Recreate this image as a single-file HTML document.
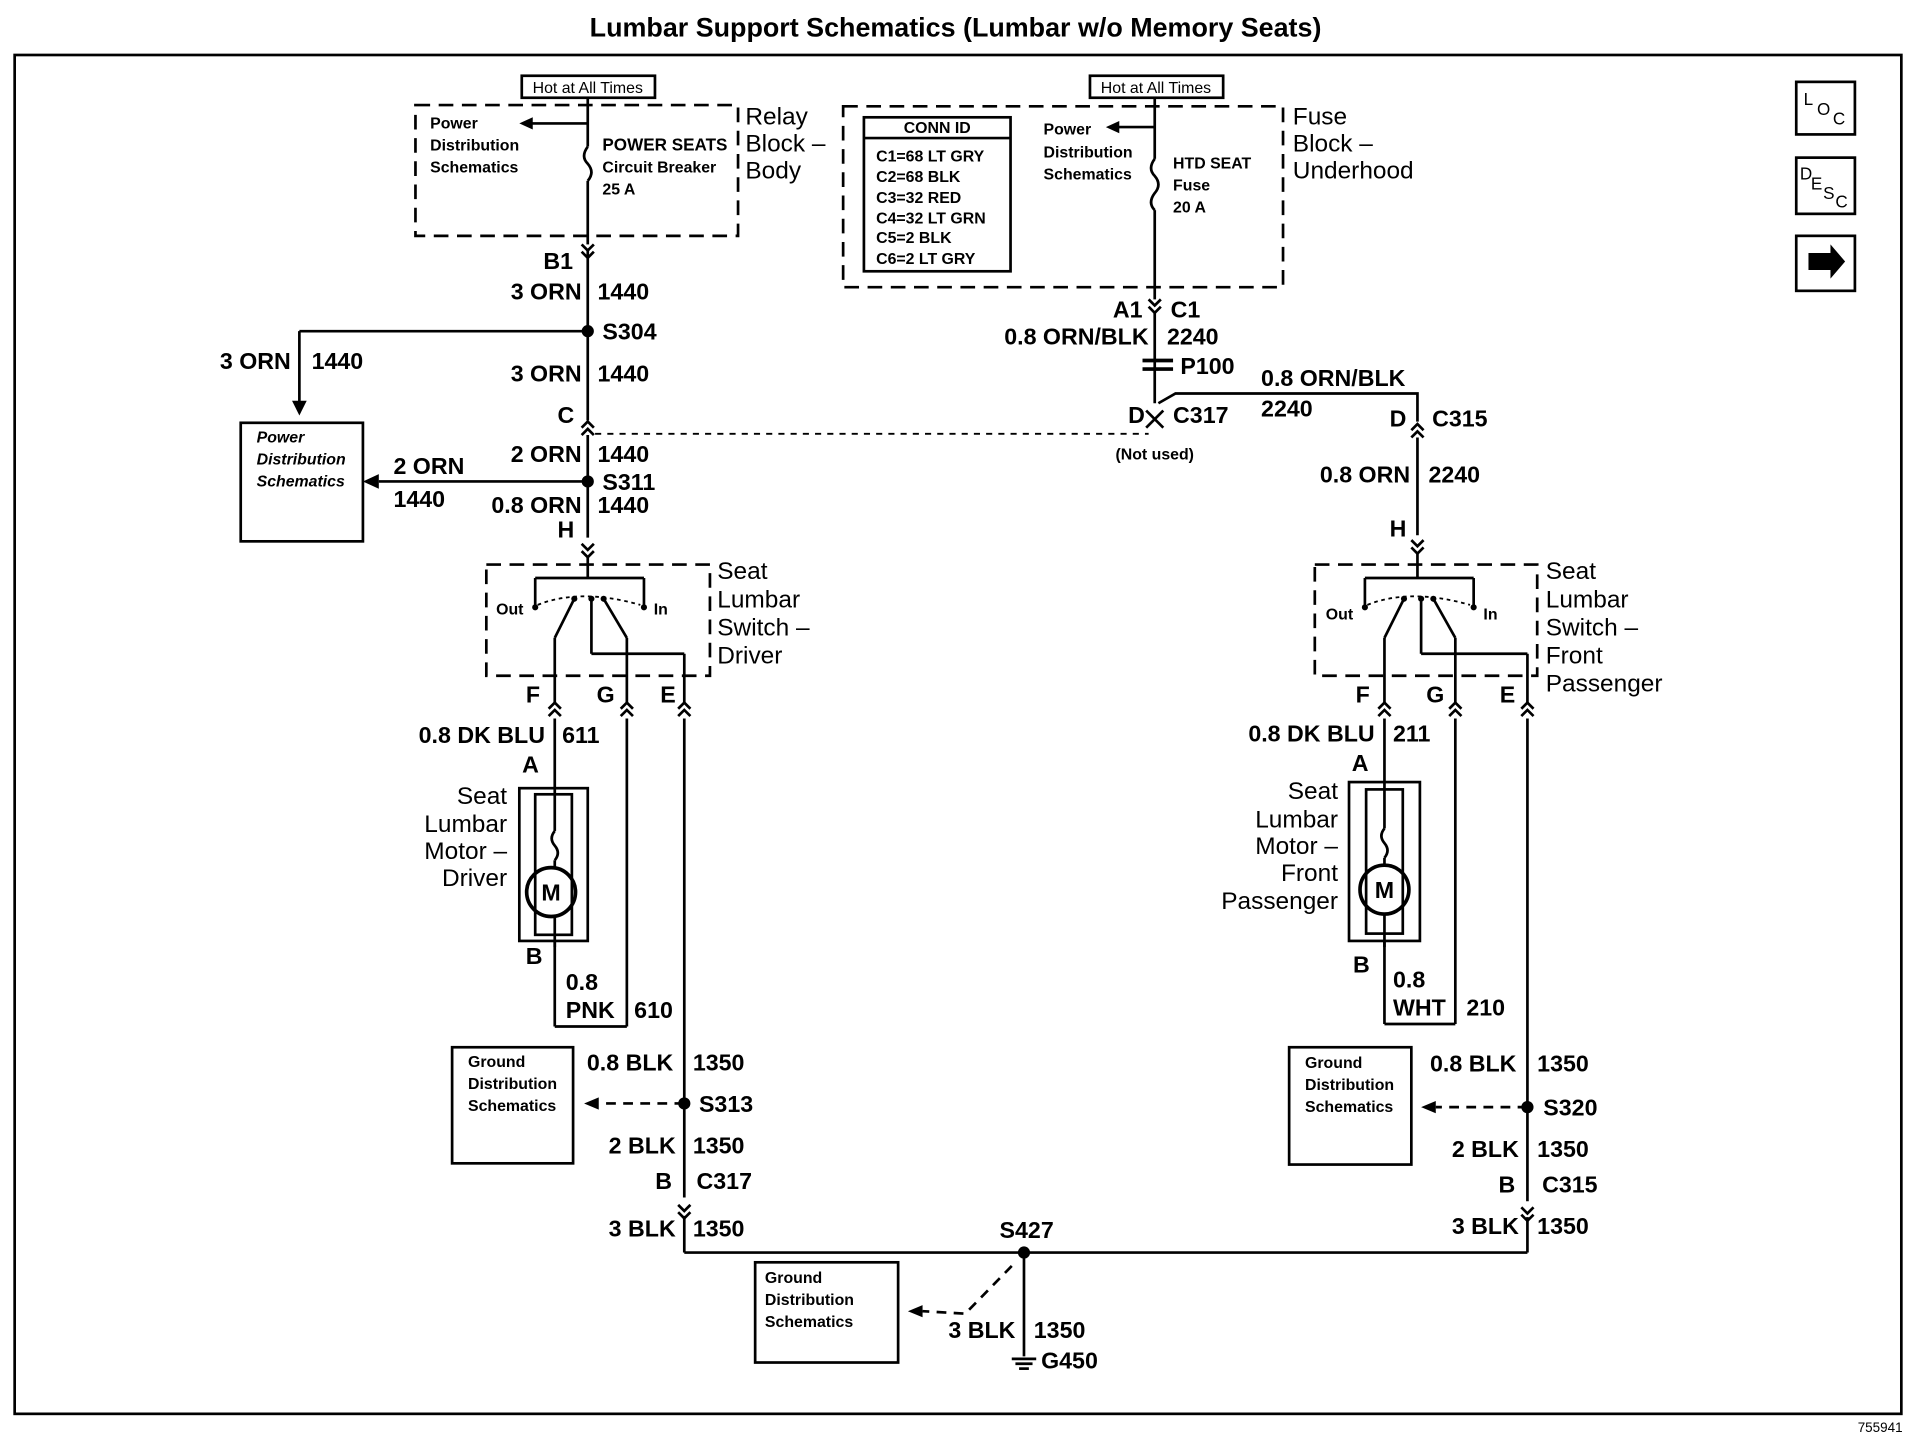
<!DOCTYPE html>
<html><head><meta charset="utf-8"><style>
html,body{margin:0;padding:0;background:#fff;width:1916px;height:1456px;overflow:hidden}
svg{display:block}
text{font-family:"Liberation Sans",Arial,sans-serif;fill:#000}
.l{font-size:19px;font-weight:bold}
.s{font-size:13px;font-weight:bold}
.b{font-size:20px}
</style></head><body>
<svg width="1916" height="1456" viewBox="0 0 1568 1191.5" preserveAspectRatio="none" xmlns="http://www.w3.org/2000/svg">
<g stroke="#000" stroke-width="2.2" fill="none">
<rect x="12" y="45" width="1544" height="1112"/>
<!-- icons -->
<rect x="1470" y="67" width="48" height="43"/>
<rect x="1470" y="129" width="48" height="46"/>
<rect x="1470" y="193" width="48" height="45"/>
<!-- relay block -->
<rect x="340" y="86" width="264" height="107" stroke-dasharray="12,7"/>
<rect x="427" y="62" width="109" height="18"/>
<line x1="481" y1="80" x2="481" y2="120"/>
<path d="M481 120 q-6 8 0 14 q6 7 0 14"/>
<line x1="481" y1="148" x2="481" y2="200"/>
<line x1="481" y1="101" x2="430" y2="101"/>
<!-- left main wire -->
<line x1="481" y1="205" x2="481" y2="344"/>
<line x1="481" y1="356" x2="481" y2="440"/>
<polyline points="476,200 481,205 486,200"/><polyline points="476,206 481,211 486,206"/>
<polyline points="476,350 481,345 486,350"/><polyline points="476,356 481,351 486,356"/>
<polyline points="476,445 481,450 486,445"/><polyline points="476,451 481,456 486,451"/>
<line x1="481" y1="271" x2="245" y2="271"/><line x1="245" y1="271" x2="245" y2="332"/>
<line x1="481" y1="394" x2="310" y2="394"/>
<rect x="197" y="346" width="100" height="97"/>
<line x1="487" y1="355" x2="940" y2="355" stroke-dasharray="5,5" stroke-width="1.5"/>
<!-- left switch -->
<rect x="398" y="462" width="183" height="91" stroke-dasharray="12,7"/>
<line x1="481" y1="456" x2="481" y2="473"/>
<line x1="438" y1="473" x2="527" y2="473"/>
<line x1="438" y1="473" x2="438" y2="495"/><line x1="527" y1="473" x2="527" y2="495"/>
<path d="M440 495 q35 -14 84 0" stroke-dasharray="3,3" stroke-width="1.5"/>
<line x1="470" y1="490" x2="454" y2="522"/><line x1="494" y1="490" x2="513" y2="522"/>
<line x1="484" y1="490" x2="484" y2="535"/><line x1="484" y1="535" x2="560" y2="535"/><line x1="560" y1="535" x2="560" y2="575"/>
<line x1="454" y1="522" x2="454" y2="575"/><line x1="513" y1="522" x2="513" y2="575"/>
<!-- left wires down -->
<line x1="454" y1="588" x2="454" y2="645"/>
<line x1="513" y1="588" x2="513" y2="840"/>
<line x1="454" y1="770" x2="454" y2="840"/><line x1="454" y1="840" x2="513" y2="840"/>
<line x1="560" y1="588" x2="560" y2="980"/>
<line x1="560" y1="995" x2="560" y2="1025"/>
<polyline points="449,580 454,575 459,580"/><polyline points="449,586 454,581 459,586"/>
<polyline points="508,580 513,575 518,580"/><polyline points="508,586 513,581 518,586"/>
<polyline points="555,580 560,575 565,580"/><polyline points="555,586 560,581 565,586"/>
<polyline points="555,986 560,991 565,986"/><polyline points="555,992 560,997 565,992"/>
<rect x="425" y="645" width="56" height="125"/>
<rect x="438" y="650" width="30" height="115"/>
<line x1="454" y1="645" x2="454" y2="680"/><path d="M454 680 q-5 6 0 12 q5 6 0 12"/><line x1="454" y1="704" x2="454" y2="710"/>
<circle cx="451" cy="730" r="20" stroke-width="3"/>
<line x1="454" y1="750" x2="454" y2="775"/>
<!-- ground left -->
<rect x="370" y="857" width="99" height="95"/>
<line x1="560" y1="903" x2="490" y2="903" stroke-dasharray="8,6"/>
<line x1="560" y1="1025" x2="1250" y2="1025"/>
<line x1="838" y1="1025" x2="838" y2="1110"/>
<line x1="828" y1="1112" x2="848" y2="1112"/><line x1="831" y1="1116" x2="845" y2="1116"/><line x1="834" y1="1120" x2="842" y2="1120"/>
<rect x="618" y="1033" width="117" height="82"/>
<path d="M828 1036 L790 1075 L755 1073" stroke-dasharray="8,6"/>
<!-- fuse block -->
<rect x="690" y="87" width="360" height="148" stroke-dasharray="12,7"/>
<rect x="892" y="62" width="109" height="18"/>
<rect x="707" y="96" width="120" height="126"/>
<line x1="707" y1="113" x2="827" y2="113"/>
<line x1="945" y1="80" x2="945" y2="130"/>
<path d="M945 130 q-6 8 0 14 q6 7 0 14 q-6 8 0 14"/>
<line x1="945" y1="172" x2="945" y2="245"/>
<line x1="945" y1="104" x2="912" y2="104"/>
<polyline points="940,245 945,250 950,245"/><polyline points="940,251 945,256 950,251"/>
<line x1="945" y1="256" x2="945" y2="330"/>
<line x1="935" y1="295" x2="960" y2="295" stroke-width="3"/><line x1="935" y1="302" x2="960" y2="302" stroke-width="3"/>
<line x1="938" y1="336" x2="952" y2="350"/><line x1="952" y1="336" x2="938" y2="350"/>
<path d="M948 330 L962 322 L1160 322 L1160 345"/>
<polyline points="1155,352 1160,347 1165,352"/><polyline points="1155,358 1160,353 1165,358"/>
<line x1="1160" y1="358" x2="1160" y2="438"/>
<polyline points="1155,442 1160,447 1165,442"/><polyline points="1155,448 1160,453 1165,448"/>
<!-- right switch -->
<rect x="1076" y="462" width="182" height="91" stroke-dasharray="12,7"/>
<line x1="1160" y1="453" x2="1160" y2="473"/>
<line x1="1117" y1="473" x2="1206" y2="473"/>
<line x1="1117" y1="473" x2="1117" y2="495"/><line x1="1206" y1="473" x2="1206" y2="495"/>
<path d="M1119 495 q35 -14 84 0" stroke-dasharray="3,3" stroke-width="1.5"/>
<line x1="1149" y1="490" x2="1133" y2="522"/><line x1="1173" y1="490" x2="1191" y2="522"/>
<line x1="1163" y1="490" x2="1163" y2="535"/><line x1="1163" y1="535" x2="1250" y2="535"/><line x1="1250" y1="535" x2="1250" y2="575"/>
<line x1="1133" y1="522" x2="1133" y2="575"/><line x1="1191" y1="522" x2="1191" y2="575"/>
<polyline points="1128,580 1133,575 1138,580"/><polyline points="1128,586 1133,581 1138,586"/>
<polyline points="1186,580 1191,575 1196,580"/><polyline points="1186,586 1191,581 1196,586"/>
<polyline points="1245,580 1250,575 1255,580"/><polyline points="1245,586 1250,581 1255,586"/>
<line x1="1133" y1="588" x2="1133" y2="640"/>
<line x1="1191" y1="588" x2="1191" y2="838"/>
<line x1="1133" y1="770" x2="1133" y2="838"/><line x1="1133" y1="838" x2="1191" y2="838"/>
<line x1="1250" y1="588" x2="1250" y2="983"/>
<line x1="1250" y1="996" x2="1250" y2="1025"/>
<polyline points="1245,988 1250,993 1255,988"/><polyline points="1245,994 1250,999 1255,994"/>
<rect x="1104" y="640" width="58" height="130"/>
<rect x="1118" y="646" width="30" height="118"/>
<line x1="1133" y1="640" x2="1133" y2="678"/><path d="M1133 678 q-5 6 0 12 q5 6 0 12"/><line x1="1133" y1="702" x2="1133" y2="708"/>
<circle cx="1133" cy="728" r="20" stroke-width="3"/>
<line x1="1133" y1="748" x2="1133" y2="775"/>
<rect x="1055" y="857" width="100" height="96"/>
<line x1="1250" y1="906" x2="1175" y2="906" stroke-dasharray="8,6"/>
</g>
<g fill="#000">
<circle cx="481" cy="271" r="5"/><circle cx="481" cy="394" r="5"/>
<circle cx="560" cy="903" r="5"/><circle cx="1250" cy="906" r="5"/><circle cx="838" cy="1025" r="5"/>
<polygon points="245,340 239,328 251,328"/>
<polygon points="297,394 310,388 310,400"/>
<polygon points="425,101 436,96 436,106"/>
<polygon points="905,104 916,99 916,109"/>
<polygon points="478,903 490,898 490,908"/>
<polygon points="1163,906 1175,901 1175,911"/>
<polygon points="743,1073 755,1068 755,1078"/>
<polygon points="1480,207 1498,207 1498,200 1510,214 1498,228 1498,221 1480,221"/>
<circle cx="438" cy="497" r="2.5"/><circle cx="527" cy="497" r="2.5"/><circle cx="470" cy="490" r="2.5"/><circle cx="494" cy="490" r="2.5"/><circle cx="484" cy="490" r="2.5"/>
<circle cx="1117" cy="497" r="2.5"/><circle cx="1206" cy="497" r="2.5"/><circle cx="1149" cy="490" r="2.5"/><circle cx="1173" cy="490" r="2.5"/><circle cx="1163" cy="490" r="2.5"/>
</g>
<!-- text -->
<text x="782" y="30" text-anchor="middle" style="font-size:22px;font-weight:bold">Lumbar Support Schematics (Lumbar w/o Memory Seats)</text>
<text x="1557" y="1172" text-anchor="end" style="font-size:11px">755941</text>
<text x="1476" y="86" style="font-size:14px">L</text><text x="1487" y="94" style="font-size:14px">O</text><text x="1500" y="102" style="font-size:14px">C</text>
<text x="1473" y="147" style="font-size:14px">D</text><text x="1482" y="155" style="font-size:14px">E</text><text x="1492" y="163" style="font-size:14px">S</text><text x="1502" y="170" style="font-size:14px">C</text>
<text x="481" y="76" text-anchor="middle" class="s" style="font-weight:normal">Hot at All Times</text>
<text x="946" y="76" text-anchor="middle" class="s" style="font-weight:normal">Hot at All Times</text>
<text class="s"><tspan x="352" y="105">Power</tspan><tspan x="352" y="123">Distribution</tspan><tspan x="352" y="141">Schematics</tspan></text>
<text class="s"><tspan x="493" y="123" style="font-size:14px">POWER SEATS</tspan><tspan x="493" y="141">Circuit Breaker</tspan><tspan x="493" y="159">25 A</tspan></text>
<text class="b"><tspan x="610" y="102">Relay</tspan><tspan x="610" y="124">Block –</tspan><tspan x="610" y="146">Body</tspan></text>
<text class="b"><tspan x="1058" y="102">Fuse</tspan><tspan x="1058" y="124">Block –</tspan><tspan x="1058" y="146">Underhood</tspan></text>
<text class="s"><tspan x="767" y="109" text-anchor="middle">CONN ID</tspan><tspan x="717" y="132">C1=68 LT GRY</tspan><tspan x="717" y="149">C2=68 BLK</tspan><tspan x="717" y="166">C3=32 RED</tspan><tspan x="717" y="183">C4=32 LT GRN</tspan><tspan x="717" y="199">C5=2 BLK</tspan><tspan x="717" y="216">C6=2 LT GRY</tspan></text>
<text class="s"><tspan x="854" y="110">Power</tspan><tspan x="854" y="129">Distribution</tspan><tspan x="854" y="147">Schematics</tspan></text>
<text class="s"><tspan x="960" y="138">HTD SEAT</tspan><tspan x="960" y="156">Fuse</tspan><tspan x="960" y="174">20 A</tspan></text>
<g class="l">
<text x="469" y="220" text-anchor="end">B1</text>
<text x="476" y="245" text-anchor="end">3 ORN</text><text x="489" y="245">1440</text>
<text x="493" y="278">S304</text>
<text x="238" y="302" text-anchor="end">3 ORN</text><text x="255" y="302">1440</text>
<text x="476" y="312" text-anchor="end">3 ORN</text><text x="489" y="312">1440</text>
<text x="470" y="346" text-anchor="end">C</text>
<text x="476" y="378" text-anchor="end">2 ORN</text><text x="489" y="378">1440</text>
<text x="322" y="388">2 ORN</text><text x="322" y="415">1440</text>
<text x="493" y="401">S311</text>
<text x="476" y="420" text-anchor="end">0.8 ORN</text><text x="489" y="420">1440</text>
<text x="470" y="440" text-anchor="end">H</text>
<text x="442" y="575" text-anchor="end">F</text><text x="503" y="575" text-anchor="end">G</text><text x="553" y="575" text-anchor="end">E</text>
<text x="446" y="608" text-anchor="end">0.8 DK BLU</text><text x="460" y="608">611</text>
<text x="441" y="632" text-anchor="end">A</text>
<text x="444" y="789" text-anchor="end">B</text>
<text x="463" y="810">0.8</text><text x="463" y="833">PNK</text><text x="519" y="833">610</text>
<text x="551" y="876" text-anchor="end">0.8 BLK</text><text x="567" y="876">1350</text>
<text x="572" y="910">S313</text>
<text x="553" y="944" text-anchor="end">2 BLK</text><text x="567" y="944">1350</text>
<text x="550" y="973" text-anchor="end">B</text><text x="570" y="973">C317</text>
<text x="553" y="1012" text-anchor="end">3 BLK</text><text x="567" y="1012">1350</text>
<text x="818" y="1013">S427</text>
<text x="831" y="1095" text-anchor="end">3 BLK</text><text x="846" y="1095">1350</text>
<text x="852" y="1120">G450</text>
<text x="935" y="260" text-anchor="end">A1</text><text x="958" y="260">C1</text>
<text x="940" y="282" text-anchor="end">0.8 ORN/BLK</text><text x="955" y="282">2240</text>
<text x="966" y="306">P100</text>
<text x="1032" y="316">0.8 ORN/BLK</text><text x="1032" y="341">2240</text>
<text x="937" y="346" text-anchor="end">D</text><text x="960" y="346">C317</text>
<text x="1151" y="349" text-anchor="end">D</text><text x="1172" y="349">C315</text>
<text x="1154" y="395" text-anchor="end">0.8 ORN</text><text x="1169" y="395">2240</text>
<text x="1151" y="439" text-anchor="end">H</text>
<text x="1121" y="575" text-anchor="end">F</text><text x="1182" y="575" text-anchor="end">G</text><text x="1240" y="575" text-anchor="end">E</text>
<text x="1125" y="607" text-anchor="end">0.8 DK BLU</text><text x="1140" y="607">211</text>
<text x="1120" y="631" text-anchor="end">A</text>
<text x="1121" y="796" text-anchor="end">B</text>
<text x="1140" y="808">0.8</text><text x="1140" y="831">WHT</text><text x="1200" y="831">210</text>
<text x="1241" y="877" text-anchor="end">0.8 BLK</text><text x="1258" y="877">1350</text>
<text x="1263" y="913">S320</text>
<text x="1243" y="947" text-anchor="end">2 BLK</text><text x="1258" y="947">1350</text>
<text x="1240" y="976" text-anchor="end">B</text><text x="1262" y="976">C315</text>
<text x="1243" y="1010" text-anchor="end">3 BLK</text><text x="1258" y="1010">1350</text>
</g>
<text x="945" y="376" text-anchor="middle" class="s">(Not used)</text>
<text class="s" style="font-style:italic"><tspan x="210" y="362">Power</tspan><tspan x="210" y="380">Distribution</tspan><tspan x="210" y="398">Schematics</tspan></text>
<text class="s"><tspan x="383" y="873">Ground</tspan><tspan x="383" y="891">Distribution</tspan><tspan x="383" y="909">Schematics</tspan></text>
<text class="s"><tspan x="1068" y="874">Ground</tspan><tspan x="1068" y="892">Distribution</tspan><tspan x="1068" y="910">Schematics</tspan></text>
<text class="s"><tspan x="626" y="1050">Ground</tspan><tspan x="626" y="1068">Distribution</tspan><tspan x="626" y="1086">Schematics</tspan></text>
<text class="s"><tspan x="406" y="503">Out</tspan><tspan x="535" y="503">In</tspan></text>
<text class="s"><tspan x="1085" y="507">Out</tspan><tspan x="1214" y="507">In</tspan></text>
<text class="b"><tspan x="587" y="474">Seat</tspan><tspan x="587" y="497">Lumbar</tspan><tspan x="587" y="520">Switch –</tspan><tspan x="587" y="543">Driver</tspan></text>
<text class="b"><tspan x="1265" y="474">Seat</tspan><tspan x="1265" y="497">Lumbar</tspan><tspan x="1265" y="520">Switch –</tspan><tspan x="1265" y="543">Front</tspan><tspan x="1265" y="566">Passenger</tspan></text>
<text class="b" text-anchor="end"><tspan x="415" y="658">Seat</tspan><tspan x="415" y="681">Lumbar</tspan><tspan x="415" y="703">Motor –</tspan><tspan x="415" y="725">Driver</tspan></text>
<text class="b" text-anchor="end"><tspan x="1095" y="654">Seat</tspan><tspan x="1095" y="677">Lumbar</tspan><tspan x="1095" y="699">Motor –</tspan><tspan x="1095" y="721">Front</tspan><tspan x="1095" y="744">Passenger</tspan></text>
<text x="451" y="737" text-anchor="middle" class="l">M</text>
<text x="1133" y="735" text-anchor="middle" class="l">M</text>
</svg>
</body></html>
